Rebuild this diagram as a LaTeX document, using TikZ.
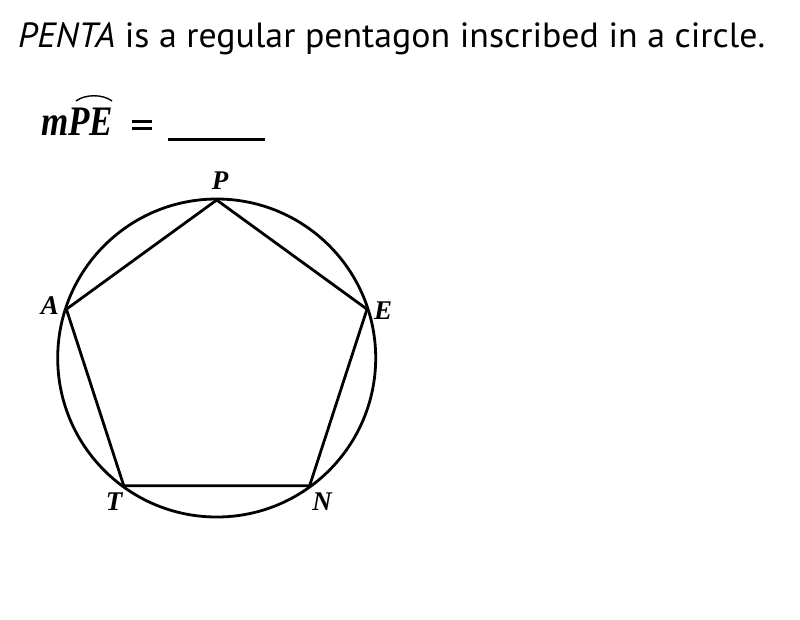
\documentclass[tikz,border=0pt]{standalone}
\usepackage{fontspec}
\setmainfont{Liberation Serif}
\newfontfamily\titlefont{PT Sans}
\newsavebox\titlebox
\newsavebox\mpebox
\begin{document}
\sbox\titlebox{\titlefont\fontsize{35}{35}\selectfont\textit{PENTA} is a regular pentagon inscribed in a circle.}
\sbox\mpebox{\fontsize{42}{42}\selectfont\bfseries\itshape mPE}
\pgfmathsetmacro\tsx{747/(\the\wd\titlebox)}
\pgfmathsetmacro\msx{72/(\the\wd\mpebox)}
\begin{tikzpicture}[x=1pt,y=-1pt,
  edge/.style={line width=2.8pt,line join=round,line cap=round},
  lab/.style={font=\fontsize{27}{27}\selectfont\bfseries\itshape,inner sep=0pt}]
\useasboundingbox (0,0) rectangle (800,619);
\node[anchor=base west,inner sep=0pt] (title) at (18,47) {\scalebox{\tsx}[1]{\usebox\titlebox}};
\node[anchor=base west,inner sep=0pt] (q) at (41,135) {\scalebox{\msx}[1]{\usebox\mpebox}};
\coordinate (e1) at (132,121.5);
\coordinate (e2) at (152,121.5);
\coordinate (e3) at (132,128.5);
\coordinate (e4) at (152,128.5);
\draw[line width=2.6pt] (e1) -- (e2) (e3) -- (e4);
\coordinate (u1) at (168,139.5);
\coordinate (u2) at (265,139.5);
\draw[line width=2.6pt] (u1) -- (u2);
\coordinate (a1) at (76,101);
\coordinate (a2) at (112,101);
\draw[line width=1.4pt] (a1) .. controls (85,94) and (103,94) .. (a2);
\coordinate (O) at (216.7,358);
\draw[edge] (O) circle[radius=159];
\coordinate (P) at (216.7,200);
\coordinate (E) at (367.0,309.2);
\coordinate (N) at (309.6,485.8);
\coordinate (T) at (123.8,485.8);
\coordinate (A) at (66.4,309.2);
\draw[edge] (P) -- (E) -- (N) -- (T) -- (A) -- cycle;
\node[lab] (lP) at (220,181) {P};
\node[lab] (lA) at (50,306) {A};
\node[lab] (lE) at (383,311) {E};
\node[lab] (lT) at (114,502) {T};
\node[lab] (lN) at (322,502) {N};
\end{tikzpicture}
\end{document}
